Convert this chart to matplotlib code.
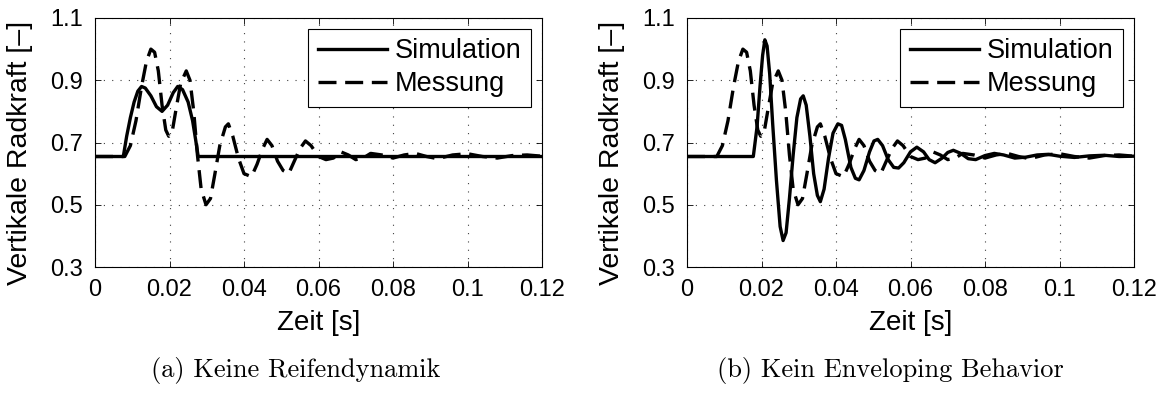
import numpy as np
import matplotlib
matplotlib.use('Agg')
import matplotlib.pyplot as plt
from matplotlib import rc
rc('font', **{'family': 'sans-serif', 'sans-serif': ['Liberation Sans', 'DejaVu Sans']})
rc('font', size=17)

# Messung (gleiche Messdaten in beiden Bildern)
t_mess = [0, 0.0080, 0.0095, 0.011, 0.0125, 0.0138, 0.0150, 0.0160, 0.0170, 0.0180,
          0.0190, 0.0198, 0.0208, 0.0218, 0.0230, 0.0245, 0.0255, 0.0265, 0.0275, 0.0285,
          0.0298, 0.0310, 0.0322, 0.0335, 0.0350, 0.0358, 0.0370, 0.0385, 0.0400, 0.0420,
          0.0435, 0.0450, 0.0462, 0.0475, 0.0490, 0.0505, 0.0520, 0.0535, 0.0550, 0.0565,
          0.058, 0.060, 0.062, 0.064, 0.066, 0.068, 0.070, 0.072, 0.074, 0.077,
          0.080, 0.083, 0.086, 0.089, 0.092, 0.096, 0.100, 0.104, 0.108, 0.112,
          0.116, 0.120]
f_mess = [0.655, 0.655, 0.69, 0.77, 0.88, 0.96, 1.00, 0.99, 0.93, 0.82,
          0.74, 0.72, 0.74, 0.81, 0.89, 0.93, 0.90, 0.80, 0.66, 0.55,
          0.50, 0.52, 0.60, 0.69, 0.75, 0.76, 0.72, 0.65, 0.60, 0.59,
          0.63, 0.68, 0.71, 0.69, 0.64, 0.61, 0.60, 0.64, 0.68, 0.705,
          0.69, 0.655, 0.645, 0.650, 0.670, 0.660, 0.645, 0.650, 0.665, 0.660,
          0.650, 0.660, 0.665, 0.655, 0.648, 0.660, 0.664, 0.655, 0.650, 0.658,
          0.660, 0.656]

# (a) Simulation ohne Reifendynamik
t_sim_a = [0, 0.0076, 0.0085, 0.0095, 0.0105, 0.0115, 0.0125, 0.0135, 0.0150, 0.0165,
           0.0180, 0.0195, 0.0210, 0.0222, 0.0235, 0.0250, 0.0262, 0.0270, 0.0277, 0.12]
f_sim_a = [0.655, 0.655, 0.72, 0.78, 0.83, 0.865, 0.88, 0.875, 0.85, 0.815,
           0.80, 0.82, 0.86, 0.88, 0.87, 0.83, 0.77, 0.71, 0.655, 0.655]

# (b) Simulation ohne Enveloping Behavior
t_sim_b = [0, 0.0178, 0.0188, 0.0196, 0.0203, 0.0209, 0.0215, 0.0222, 0.0230, 0.0240,
           0.0250, 0.0258, 0.0266, 0.0275, 0.0285, 0.0295, 0.0305, 0.0312, 0.0320, 0.0330,
           0.0340, 0.0350, 0.0358, 0.0368, 0.0380, 0.0392, 0.0405, 0.0415, 0.0425, 0.0440,
           0.0452, 0.0462, 0.0475, 0.0490, 0.0502, 0.0512, 0.0525, 0.0540, 0.0555, 0.0568,
           0.0582, 0.0600, 0.0617, 0.0635, 0.0650, 0.0666, 0.0685, 0.0700, 0.0715, 0.0735,
           0.0755, 0.0775, 0.0800, 0.0825, 0.085, 0.088, 0.091, 0.094, 0.097, 0.100,
           0.104, 0.108, 0.112, 0.116, 0.120]
f_sim_b = [0.655, 0.655, 0.75, 0.88, 0.98, 1.03, 1.01, 0.92, 0.76, 0.58,
           0.43, 0.385, 0.41, 0.52, 0.66, 0.78, 0.84, 0.85, 0.82, 0.72,
           0.60, 0.53, 0.51, 0.55, 0.65, 0.73, 0.76, 0.755, 0.71, 0.62,
           0.585, 0.58, 0.61, 0.67, 0.705, 0.71, 0.69, 0.645, 0.62, 0.618,
           0.635, 0.670, 0.685, 0.670, 0.645, 0.635, 0.650, 0.668, 0.675, 0.665,
           0.648, 0.645, 0.658, 0.665, 0.660, 0.650, 0.653, 0.660, 0.662, 0.656,
           0.652, 0.657, 0.659, 0.655, 0.656]

xticks = [0, 0.02, 0.04, 0.06, 0.08, 0.1, 0.12]
xticklabels = ['0', '0.02', '0.04', '0.06', '0.08', '0.1', '0.12']
yticks = [0.3, 0.5, 0.7, 0.9, 1.1]
captions = ['(a) Keine Reifendynamik', '(b) Kein Enveloping Behavior']

fig = plt.figure(figsize=(11.67, 3.94), dpi=100)
lefts = [95 / 1167, 687 / 1167]
cap_x = [296 / 1167, 890 / 1167]
sims = [(t_sim_a, f_sim_a), (t_sim_b, f_sim_b)]
for i in range(2):
    ax = fig.add_axes([lefts[i], 1 - 267 / 394, 447 / 1167, 249 / 394])
    ax.plot(sims[i][0], sims[i][1], 'k-', lw=2.4, label='Simulation')
    ax.plot(t_mess, f_mess, 'k--', lw=2.4, dashes=(5.4, 2.6), label='Messung')
    ax.set_xlim(0, 0.12)
    ax.set_ylim(0.3, 1.1)
    ax.set_xticks(xticks)
    ax.set_xticklabels(xticklabels)
    ax.set_yticks(yticks)
    ax.grid(True, ls=(0, (1, 6.5)), lw=0.8, color='0.25')
    ax.tick_params(direction='in', top=True, right=True, length=4, width=0.6, pad=8.5)
    for s in ax.spines.values():
        s.set_linewidth(0.8)
    ax.set_xlabel('Zeit [s]', fontsize=20)
    ax.xaxis.set_label_coords(0.5, -0.173)
    ax.set_ylabel('Vertikale Radkraft [–]', fontsize=20.5)
    ax.yaxis.set_label_coords(-0.139, 0.46)
    leg = ax.legend(loc='upper right', fancybox=False, edgecolor='k', framealpha=1,
                    fontsize=19.5, handlelength=2.55, handletextpad=0.3, borderpad=0.35,
                    labelspacing=0.25, borderaxespad=0.4)
    leg.get_frame().set_linewidth(0.8)
    fig.text(cap_x[i], 1 - 370 / 394, captions[i],
             family='cmr10', fontsize=19, ha='center', va='center')

plt.savefig('out.png', dpi=100)
